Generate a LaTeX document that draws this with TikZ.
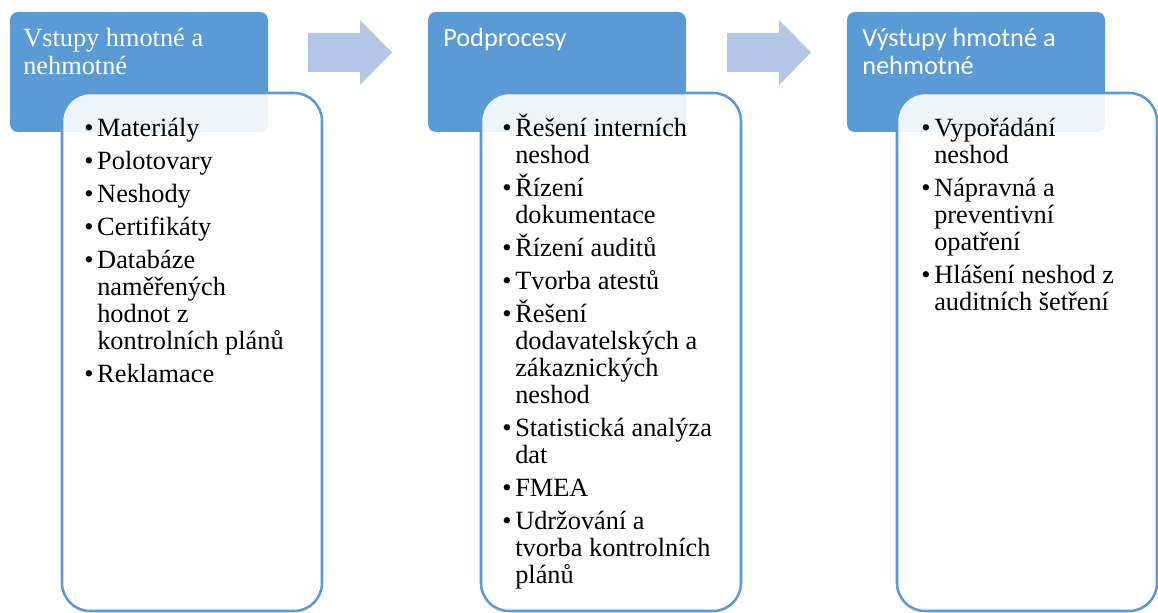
\documentclass[tikz,border=0pt]{standalone}
\usepackage{fontspec}
\setmainfont{Liberation Serif}
\newfontfamily\headsans{Carlito}
\definecolor{hdrblue}{HTML}{5B9BD5}
\definecolor{arrowblue}{HTML}{B4C7E7}
% list helpers: bulleted first line, indented continuation line, gap between items
% (lines are smashed so that accented capitals do not stretch the rows)
\newcommand\itm[1]{\smash{\makebox[9.75pt][l]{\textbullet}#1}}
\newcommand\cnt[1]{\smash{\hspace*{9.75pt}#1}}
\newcommand\hl[1]{\smash{#1}}
\newcommand\nextitem{\\[4.5pt]}
\begin{document}
\begin{tikzpicture}[x=0.75pt,y=-0.75pt,
  header/.style={fill=hdrblue, rounded corners=6pt, inner sep=0pt, outer sep=0pt,
    minimum width=193.5pt, minimum height=90pt, anchor=north west},
  listbox/.style={draw=hdrblue, line width=1.9pt, fill=white, fill opacity=0.9,
    rounded corners=21pt, inner sep=0pt, outer sep=0pt,
    minimum width=195pt, minimum height=388.5pt, anchor=north west},
  bigarrow/.style={fill=arrowblue},
  htext/.style={text=white, anchor=base west, inner sep=0pt, font=\fontsize{19.75}{21}\selectfont},
  ltext/.style={anchor=base west, inner sep=0pt, font=\fontsize{19.75}{20.25}\selectfont}]
\useasboundingbox (0,0) rectangle (1158,613);

% column headers
\node[header] (h1) at (10,12) {};
\node[header] (h2) at (428,12) {};
\node[header] (h3) at (847,12) {};

% block arrows between the headers
\fill[bigarrow] (308,33) -- (360,33) -- (360,20) -- (392,52.5) -- (360,85) -- (360,72) -- (308,72) -- cycle;
\fill[bigarrow] (727,33) -- (779,33) -- (779,20) -- (811,52.5) -- (779,85) -- (779,72) -- (727,72) -- cycle;

% list panels overlapping the headers
\node[listbox] (b1) at (62,93) {};
\node[listbox] (b2) at (481,93) {};
\node[listbox] (b3) at (897,93) {};

% header titles
\node[htext] (t1) at (23,47) {\begin{tabular}[t]{@{}l@{}}\hl{Vstupy hmotné a}\\\hl{nehmotné}\end{tabular}};
\node[htext] (t2) at (443,47) {\headsans Podprocesy};
\node[htext] (t3) at (862,47) {\headsans\begin{tabular}[t]{@{}l@{}}\hl{Výstupy hmotné a}\\\hl{nehmotné}\end{tabular}};

% panel contents
\node[ltext] (l1) at (84,137) {\begin{tabular}[t]{@{}l@{}}
\itm{Materiály}\nextitem
\itm{Polotovary}\nextitem
\itm{Neshody}\nextitem
\itm{Certifikáty}\nextitem
\itm{Databáze}\\
\cnt{naměřených}\\
\cnt{hodnot z}\\
\cnt{kontrolních plánů}\nextitem
\itm{Reklamace}
\end{tabular}};

\node[ltext] (l2) at (502,137) {\begin{tabular}[t]{@{}l@{}}
\itm{Řešení interních}\\
\cnt{neshod}\nextitem
\itm{Řízení}\\
\cnt{dokumentace}\nextitem
\itm{Řízení auditů}\nextitem
\itm{Tvorba atestů}\nextitem
\itm{Řešení}\\
\cnt{dodavatelských a}\\
\cnt{zákaznických}\\
\cnt{neshod}\nextitem
\itm{Statistická analýza}\\
\cnt{dat}\nextitem
\itm{FMEA}\nextitem
\itm{Udržování a}\\
\cnt{tvorba kontrolních}\\
\cnt{plánů}
\end{tabular}};

\node[ltext] (l3) at (921,137) {\begin{tabular}[t]{@{}l@{}}
\itm{Vypořádání}\\
\cnt{neshod}\nextitem
\itm{Nápravná a}\\
\cnt{preventivní}\\
\cnt{opatření}\nextitem
\itm{Hlášení neshod z}\\
\cnt{auditních šetření}
\end{tabular}};
\end{tikzpicture}
\end{document}
